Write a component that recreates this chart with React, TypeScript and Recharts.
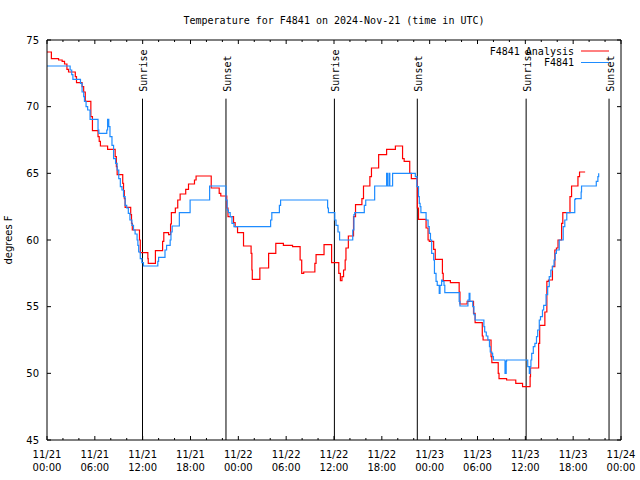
import React from 'react';
import { ComposedChart, Line, XAxis, YAxis, ReferenceLine, Legend } from 'recharts';

// hours since 11/21 00:00 UTC, degrees F
const analysisSeries: [number, number][] = [
  [0, 74.1], [0.55, 73.6], [1.45, 73.5], [1.9, 73.4], [2.2, 73.2], [2.5, 72.8], [2.7, 72.6], [3.55, 72.25],
  [3.7, 71.8], [4.4, 71.5], [4.6, 71.1], [4.8, 70.4], [5.5, 69.25], [5.7, 68.2], [6.4, 67.75], [6.55, 67.4],
  [6.7, 67.05], [7.6, 66.8], [8.55, 66.25], [8.7, 65.5], [8.8, 64.9], [9.5, 64.25], [9.6, 63.7], [9.7, 63.1],
  [9.8, 62.45], [10.5, 61.9], [10.6, 61.25], [10.7, 60.75], [11.6, 60.0], [11.7, 59.05], [12.65, 58.6],
  [12.7, 58.25], [13.6, 59.2], [14.5, 59.9], [14.65, 60.55], [15.25, 60.4], [15.5, 61.2], [15.6, 62.05],
  [16.1, 62.4], [16.4, 63.0], [16.7, 63.45], [17.4, 63.8], [17.75, 64.2], [18.5, 64.5], [18.7, 64.8],
  [20.6, 63.9], [21.6, 63.5], [21.8, 63.3], [22.55, 62.4], [22.7, 61.75], [23.4, 61.3], [23.6, 61.0],
  [23.9, 60.55], [24.65, 59.55], [25.6, 59.0], [25.7, 57.75], [25.75, 57.05], [26.7, 57.9], [27.8, 59.0],
  [28.7, 59.75], [29.65, 59.6], [30.8, 59.5], [31.75, 58.5], [31.95, 57.5], [32.2, 57.6], [33.6, 58.25],
  [33.75, 58.9], [34.75, 59.65], [35.7, 58.3], [36.6, 57.5], [36.8, 56.95], [37.0, 57.25], [37.2, 57.75],
  [37.4, 58.5], [37.5, 59.4], [37.8, 60.3], [38.45, 61.75], [38.7, 62.65], [39.5, 63.1], [39.7, 64.05],
  [40.5, 64.75], [40.7, 65.4], [41.6, 66.4], [42.6, 66.8], [43.7, 67.05], [44.6, 66.1], [44.8, 65.9],
  [45.5, 65.0], [45.7, 64.6], [46.45, 62.4], [46.6, 61.55], [47.55, 60.9], [47.8, 60.0], [47.95, 59.9],
  [48.5, 59.3], [48.7, 58.55], [49.6, 57.5], [49.7, 56.95], [50.6, 56.8], [51.7, 56.1], [51.8, 55.2],
  [52.7, 55.4], [53.5, 54.5], [53.7, 53.8], [54.6, 52.8], [54.7, 52.5], [55.7, 51.25], [55.8, 50.8],
  [56.6, 50.0], [56.7, 49.6], [57.65, 49.5], [58.8, 49.25], [59.65, 49.0], [60.6, 49.75], [60.65, 50.4],
  [61.67, 52.25], [61.8, 53.6], [62.45, 54.6], [62.7, 56.9], [62.9, 57.0], [63.4, 58.0], [63.7, 59.25],
  [63.9, 59.4], [64.1, 60.0], [64.55, 61.25], [64.7, 62.05], [65.6, 63.25], [65.8, 64.05], [66.6, 64.75],
  [66.8, 65.1], [67.5, 65.1],
];

const stationSeries: [number, number][] = [
  [0, 73.05], [2.9, 72.75], [3.1, 72.4], [3.25, 72.05], [4.2, 71.75], [4.4, 71.1], [4.6, 70.75], [4.7, 70.4],
  [4.9, 70.0], [5.1, 69.75], [5.4, 69.05], [6.4, 68.25], [6.5, 68.0], [7.5, 68.25], [7.6, 69.05], [7.75, 68.5],
  [7.9, 67.75], [8.15, 67.1], [8.35, 66.1], [8.6, 65.75], [8.8, 65.25], [9.0, 64.6], [9.2, 64.0], [9.4, 63.75],
  [9.6, 63.25], [9.8, 62.6], [10.0, 62.4], [10.2, 62.0], [10.4, 61.5], [10.65, 61.1], [10.85, 60.75],
  [11.05, 60.45], [11.3, 60.0], [11.4, 59.6], [11.5, 59.1], [11.7, 58.6], [11.9, 58.3], [12.1, 58.05],
  [13.9, 58.4], [14.0, 58.7], [14.8, 59.25], [15.0, 59.6], [15.45, 60.0], [15.55, 60.6], [15.7, 61.05],
  [16.6, 62.05], [17.95, 63.0], [20.4, 64.05], [22.45, 63.0], [22.6, 62.25], [22.75, 62.05], [22.98, 61.75],
  [23.2, 61.25], [23.45, 61.0], [28.05, 61.5], [28.2, 62.05], [29.15, 62.6], [29.3, 63.0], [35.2, 62.4],
  [35.3, 62.05], [36.1, 61.5], [36.25, 61.1], [36.5, 60.6], [36.7, 60.0], [38.35, 60.75], [38.5, 61.9],
  [38.6, 62.05], [39.8, 62.6], [39.98, 63.0], [41.1, 64.05], [42.6, 65.0], [42.7, 64.05], [42.9, 65.0],
  [43.0, 64.05], [43.35, 65.0], [46.2, 64.75], [46.4, 64.0], [46.6, 63.25], [46.7, 62.75], [46.8, 62.5],
  [46.9, 62.05], [47.55, 61.5], [47.8, 61.0], [47.95, 60.5], [48.1, 60.0], [48.25, 59.0], [48.5, 58.5],
  [48.6, 57.5], [48.8, 56.9], [48.95, 56.6], [49.2, 56.0], [49.3, 56.6], [49.5, 57.0], [49.6, 56.9],
  [49.8, 56.6], [49.9, 56.05], [51.7, 55.4], [51.8, 55.05], [52.8, 55.5], [52.95, 56.0], [53.05, 55.4],
  [53.4, 55.0], [53.55, 54.4], [53.7, 54.0], [54.8, 53.5], [54.9, 53.1], [55.1, 52.8], [55.3, 52.5],
  [55.5, 52.0], [55.6, 51.6], [55.8, 51.5], [55.9, 51.25], [56.0, 51.0], [57.45, 50.0], [57.6, 50.9],
  [57.65, 51.0], [60.3, 50.5], [60.5, 50.0], [60.6, 50.5], [60.7, 51.0], [60.8, 51.5], [61.0, 52.0],
  [61.2, 52.25], [61.4, 52.75], [61.55, 53.25], [61.75, 54.0], [61.9, 54.25], [62.15, 54.75], [62.3, 55.1],
  [62.6, 55.9], [62.8, 56.5], [63.0, 57.25], [63.2, 57.75], [63.4, 58.05], [63.6, 58.5], [63.75, 59.0],
  [63.9, 59.25], [64.25, 60.0], [64.75, 61.0], [64.95, 61.5], [65.2, 62.05], [66.2, 63.05], [66.3, 63.1],
  [67.0, 63.6], [67.05, 64.05], [68.9, 64.4], [69.1, 64.75], [69.2, 65.0],
];

const sunHours = [11.98, 22.45, 36.05, 46.45, 60.1, 70.5];
const sunLabels = ['Sunrise', 'Sunset', 'Sunrise', 'Sunset', 'Sunrise', 'Sunset'];
const sunLineTop = 70.6;

const xTicks = [0, 2, 4, 6, 8, 10, 12, 14, 16, 18, 20, 22, 24, 26, 28, 30, 32, 34, 36, 38, 40, 42, 44, 46, 48, 50, 52, 54, 56, 58, 60, 62, 64, 66, 68, 70, 72];
const xDayLabels = ['11/21', '11/22', '11/23', '11/24'];
const xTimeLabels = ['00:00', '06:00', '12:00', '18:00'];
const yTicks = [45, 50, 55, 60, 65, 70, 75];

const titleText = 'Temperature for F4841 on 2024-Nov-21 (time in UTC)';
const yLabelText = 'degrees F';
const analysisName = 'F4841 Analysis';
const stationName = 'F4841';

const RED = '#ff0000';
const BLUE = '#1e8cff';
const MONO = 'DejaVu Sans Mono';
const SANS = 'DejaVu Sans';

const analysisData = analysisSeries.map(([h, v]) => ({ h, v }));
const stationData = stationSeries.map(([h, v]) => ({ h, v }));

const BottomTick = (props: any) => {
  const { x, y, payload } = props;
  const v = payload.value as number;
  const major = v % 6 === 0;
  return (
    <g>
      <line x1={x} x2={x} y1={y} y2={y - (major ? 4 : 2)} stroke="#000" />
      {major && (
        <text x={x} y={y + 17.5} textAnchor="middle" fontFamily={SANS} fontSize={10} fill="#000">
          <tspan x={x}>{xDayLabels[Math.floor(v / 24)]}</tspan>
          <tspan x={x} dy={13}>{xTimeLabels[(v % 24) / 6]}</tspan>
        </text>
      )}
    </g>
  );
};

const TopTick = (props: any) => {
  const { x, y, payload } = props;
  const major = (payload.value as number) % 6 === 0;
  return <line x1={x} x2={x} y1={y} y2={y + (major ? 4 : 2)} stroke="#000" />;
};

const LeftTick = (props: any) => {
  const { x, y, payload } = props;
  return (
    <g>
      <line x1={x} x2={x + 4} y1={y} y2={y} stroke="#000" />
      <text x={x - 8} y={y + 3.5} textAnchor="end" fontFamily={SANS} fontSize={10} fill="#000">
        {payload.value}
      </text>
    </g>
  );
};

const RightTick = (props: any) => {
  const { x, y } = props;
  return <line x1={x} x2={x - 4} y1={y} y2={y} stroke="#000" />;
};

const LegendBox = () => (
  <svg width={180} height={30} style={{ display: 'block' }}>
    <text x={124} y={14.5} textAnchor="end" fontFamily={MONO} fontSize={10} fill="#000">{analysisName}</text>
    <line x1={131} x2={159} y1={11} y2={11} stroke={RED} strokeWidth={1} />
    <text x={124} y={26} textAnchor="end" fontFamily={MONO} fontSize={10} fill="#000">{stationName}</text>
    <line x1={131} x2={159} y1={22.5} y2={22.5} stroke={BLUE} strokeWidth={1} />
  </svg>
);

export default function App() {
  return (
    <div style={{ position: 'absolute', left: 0, top: 0, width: 640, height: 480, background: '#fff' }}>
      <ComposedChart width={640} height={480} margin={{ top: 39, right: 18, bottom: 0, left: 0 }}>
        <XAxis
          xAxisId="bottom"
          dataKey="h"
          type="number"
          domain={[0, 72]}
          ticks={xTicks}
          interval={0}
          allowDataOverflow
          height={40}
          tickSize={0}
          tickMargin={0}
          tickLine={false}
          axisLine={{ stroke: '#000' }}
          tick={<BottomTick />}
        />
        <XAxis
          xAxisId="top"
          orientation="top"
          dataKey="h"
          type="number"
          domain={[0, 72]}
          ticks={xTicks}
          interval={0}
          allowDataOverflow
          height={1}
          tickSize={0}
          tickMargin={0}
          tickLine={false}
          axisLine={{ stroke: '#000' }}
          tick={<TopTick />}
          label={(p: any) => {
            const vb = p.viewBox || { x: 47, y: 40, width: 574 };
            return (
              <text x={vb.x + vb.width / 2} y={23.5} textAnchor="middle" fontFamily={MONO} fontSize={10} fill="#000">
                {titleText}
              </text>
            );
          }}
        />
        <YAxis
          yAxisId="left"
          type="number"
          domain={[45, 75]}
          ticks={yTicks}
          interval={0}
          allowDataOverflow
          width={47}
          tickSize={0}
          tickMargin={0}
          tickLine={false}
          axisLine={{ stroke: '#000' }}
          tick={<LeftTick />}
          label={(p: any) => {
            const vb = p.viewBox || { x: 0, y: 40, width: 47, height: 400 };
            const cx = 12;
            const cy = vb.y + vb.height / 2;
            return (
              <text x={cx} y={cy} transform={`rotate(-90 ${cx} ${cy})`} textAnchor="middle" fontFamily={SANS} fontSize={10} fill="#000">
                {yLabelText}
              </text>
            );
          }}
        />
        <YAxis
          yAxisId="right"
          orientation="right"
          type="number"
          domain={[45, 75]}
          ticks={yTicks}
          interval={0}
          allowDataOverflow
          width={1}
          tickSize={0}
          tickMargin={0}
          tickLine={false}
          axisLine={{ stroke: '#000' }}
          tick={<RightTick />}
        />
        {sunHours.map((h, i) => (
          <ReferenceLine
            key={`sun-${i}`}
            xAxisId="bottom"
            yAxisId="left"
            segment={[{ x: h, y: 45 }, { x: h, y: sunLineTop }]}
            stroke="#000"
            strokeWidth={1}
            label={(p: any) => {
              const vb = p.viewBox || { x: 0, y: 99 };
              const tx = vb.x + 5;
              const ty = vb.y - 7;
              return (
                <text x={tx} y={ty} transform={`rotate(-90 ${tx} ${ty})`} textAnchor="start" fontFamily={MONO} fontSize={10} fill="#000">
                  {sunLabels[i]}
                </text>
              );
            }}
          />
        ))}
        <Line
          xAxisId="bottom"
          yAxisId="left"
          data={analysisData}
          dataKey="v"
          name={analysisName}
          type="stepAfter"
          stroke={RED}
          strokeWidth={1.2}
          dot={false}
          activeDot={false}
          isAnimationActive={false}
        />
        <Line
          xAxisId="bottom"
          yAxisId="left"
          data={stationData}
          dataKey="v"
          name={stationName}
          type="stepAfter"
          stroke={BLUE}
          strokeWidth={1.2}
          dot={false}
          activeDot={false}
          isAnimationActive={false}
        />
        <Legend
          layout="vertical"
          align="center"
          verticalAlign="middle"
          content={() => <LegendBox />}
          wrapperStyle={{ position: 'absolute', top: 40, left: 450, width: 180, height: 30, margin: 0, padding: 0 }}
        />
      </ComposedChart>
    </div>
  );
}
